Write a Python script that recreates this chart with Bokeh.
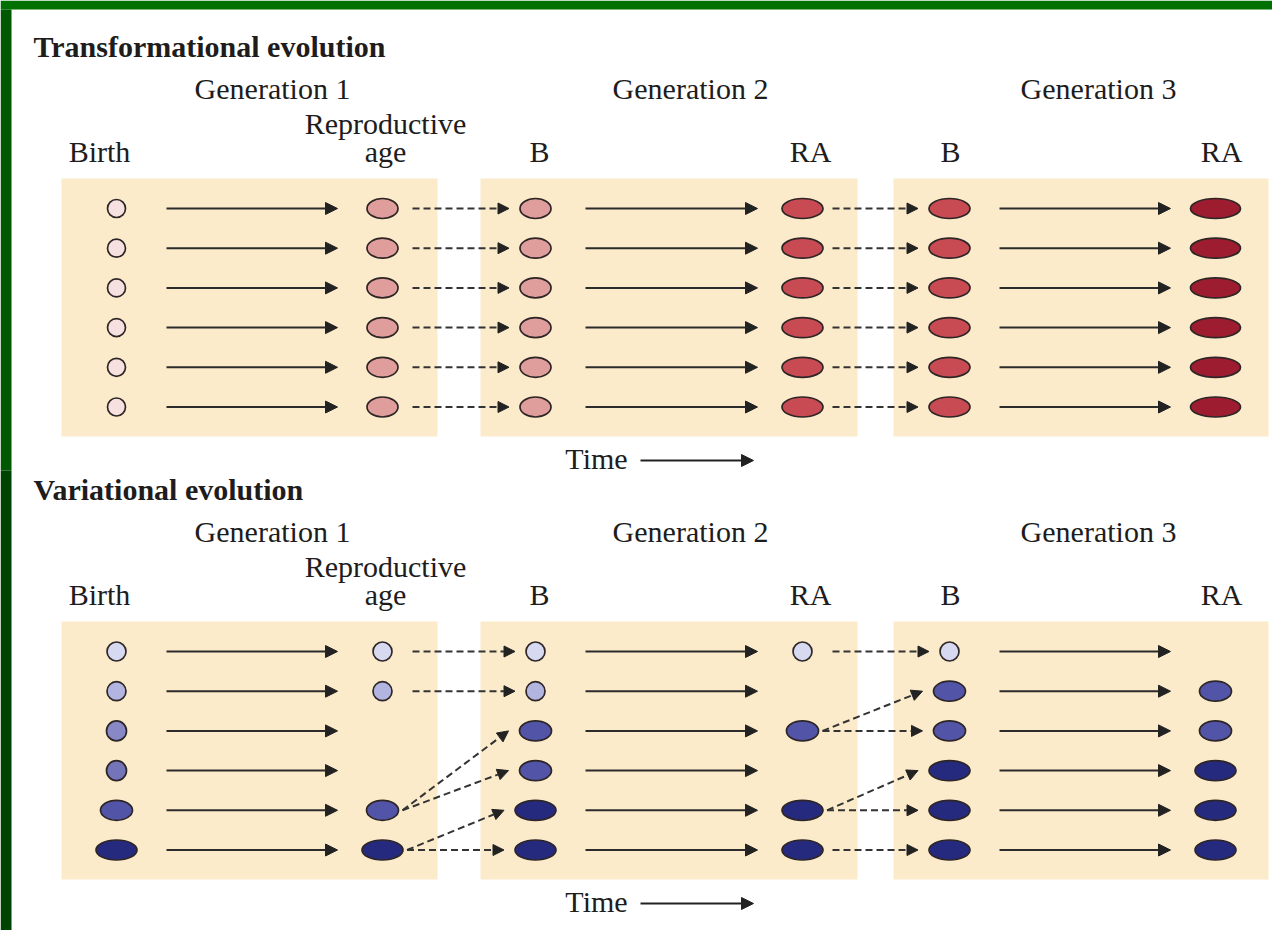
from bokeh.plotting import figure
from bokeh.models import Range1d, ColumnDataSource, Arrow, NormalHead
from bokeh.core.properties import value
from bokeh.embed import file_html
from bokeh.resources import INLINE

# ---------------- data ----------------
panel_titles = ["Transformational evolution", "Variational evolution"]
generation_labels = ["Generation 1", "Generation 2", "Generation 3"]
stage_line1 = ["", "Reproductive", "", "", "", ""]
stage_line2 = ["Birth", "age", "B", "RA", "B", "RA"]
time_label = "Time"

# phenotype class of each individual (rows) at each stage
# stages: Birth, RA (gen 1), B, RA (gen 2), B, RA (gen 3); None = individual absent
trans_pheno = [
    [0, 1, 1, 2, 2, 3],
    [0, 1, 1, 2, 2, 3],
    [0, 1, 1, 2, 2, 3],
    [0, 1, 1, 2, 2, 3],
    [0, 1, 1, 2, 2, 3],
    [0, 1, 1, 2, 2, 3],
]
var_pheno = [
    [0, 0, 0, 0, 0, None],
    [1, 1, 1, None, 4, 4],
    [2, None, 4, 4, 4, 4],
    [3, None, 4, None, 5, 5],
    [4, 4, 5, 5, 5, 5],
    [5, 5, 5, 5, 5, 5],
]
# offspring links (parent row -> offspring row) between generations
trans_links = [[(0, 0), (1, 1), (2, 2), (3, 3), (4, 4), (5, 5)],
               [(0, 0), (1, 1), (2, 2), (3, 3), (4, 4), (5, 5)]]
var_links = [[(0, 0), (1, 1), (4, 2), (4, 3), (5, 4), (5, 5)],
             [(0, 0), (2, 1), (2, 2), (4, 3), (4, 4), (5, 5)]]

# phenotype class appearance
trans_colors = ["#f7e0e0", "#df9d9b", "#c84a52", "#9e1c2f"]
trans_widths = [18, 31, 41, 50]
var_colors = ["#d7d9f1", "#b3b5e1", "#8888c7", "#7474b9", "#5154a7", "#252a7e"]
var_widths = [19, 19, 20, 20, 32, 41]

# ---------------- layout ----------------
W, H = 1272, 930
col_x = [116, 382, 535, 802, 949, 1215]
label_x = [99, 385, 539, 810, 950, 1221]
gen_x = [272, 690, 1098]
box_x = [(61, 437), (480, 857), (893, 1268)]
row0_y, row_dy = 208, 39.7
panel_dy = 443
BL = -11  # baseline correction
FONT = value("Liberation Serif")
TXT = "#201c1c"

p = figure(width=W, height=H, x_range=Range1d(0, W), y_range=Range1d(H, 0),
           output_backend="svg", toolbar_location=None, min_border=0,
           x_axis_location=None, y_axis_location=None,
           background_fill_color="white", border_fill_color="white", outline_line_color=None)
p.grid.visible = False

# green frame
p.quad(left=[0, 0, 0], right=[W, 11, 11], top=[0, 9, 470], bottom=[9, 470, H],
       fill_color=["#007000", "#005800", "#004200"], line_color=None)


def head(size):
    return NormalHead(size=size, fill_color="#222222", fill_alpha=1.0,
                      line_color="#222222", line_width=1)


def draw_panel(k, pheno, colors, widths, links):
    dy = k * panel_dy
    # boxes
    p.quad(left=[b[0] for b in box_x], right=[b[1] for b in box_x],
           top=[178 + dy] * 3, bottom=[436 + dy] * 3, fill_color="#fcebca", line_color=None)
    # texts
    p.text(x=[33], y=[57 + dy + BL], text=[panel_titles[k]], text_font=FONT, text_font_size="30px",
           text_font_style="bold", text_baseline="alphabetic", text_align="left", text_color=TXT)
    p.text(x=gen_x, y=[99 + dy + BL] * 3, text=generation_labels, text_font=FONT,
           text_font_size="30px", text_baseline="alphabetic", text_align="center", text_color=TXT)
    p.text(x=label_x, y=[134 + dy + BL] * 6, text=stage_line1, text_font=FONT,
           text_font_size="30px", text_baseline="alphabetic", text_align="center", text_color=TXT)
    p.text(x=label_x, y=[162 + dy + BL] * 6, text=stage_line2, text_font=FONT,
           text_font_size="30px", text_baseline="alphabetic", text_align="center", text_color=TXT)
    p.text(x=[596], y=[469 + dy + BL], text=[time_label], text_font=FONT, text_font_size="30px",
           text_baseline="alphabetic", text_align="center", text_color=TXT)
    p.add_layout(Arrow(x_start=640, y_start=460 + dy, x_end=753, y_end=460 + dy,
                       line_width=2, line_color="#222222", end=head(12)))

    ys = [row0_y + i * row_dy + dy for i in range(6)]
    # solid arrows (growth within a generation)
    sx, sy, ex, ey = [], [], [], []
    for g in range(3):
        for i in range(6):
            sx.append(col_x[2 * g] + 50); ex.append(col_x[2 * g + 1] - 45)
            sy.append(ys[i]); ey.append(ys[i])
    p.add_layout(Arrow(source=ColumnDataSource(dict(xs=sx, ys=sy, xe=ex, ye=ey)),
                       x_start="xs", y_start="ys", x_end="xe", y_end="ye",
                       line_width=2, line_color="#2b2b2b", end=head(12)))
    # dashed arrows (reproduction)
    sx, sy, ex, ey = [], [], [], []
    for g, lk in enumerate(links):
        src_col, dst_col = 2 * g + 1, 2 * g + 2
        counts = {}
        for s, t in lk:
            counts[s] = counts.get(s, 0) + 1
        for s, t in lk:
            ws = widths[pheno[s][src_col]]
            wt = widths[pheno[t][dst_col]]
            if counts[s] > 1:
                sx.append(col_x[src_col] + ws / 2 + 4)
            else:
                sx.append(col_x[src_col] + 30)
            ex.append(col_x[dst_col] - wt / 2 - 11)
            sy.append(ys[s]); ey.append(ys[t])
    p.add_layout(Arrow(source=ColumnDataSource(dict(xs=sx, ys=sy, xe=ex, ye=ey)),
                       x_start="xs", y_start="ys", x_end="xe", y_end="ye",
                       line_width=2, line_color="#333333", line_dash="7 4", end=head(11)))
    # individuals
    ex_, ey_, ew, eh, ec = [], [], [], [], []
    for i in range(6):
        for c in range(6):
            v = pheno[i][c]
            if v is None:
                continue
            ex_.append(col_x[c]); ey_.append(ys[i])
            w = widths[v]
            ew.append(w); eh.append(min(w, 20)); ec.append(colors[v])
    p.ellipse(x="x", y="y", width="w", height="h", fill_color="c", line_color="#2e2626",
              line_width=1.7, source=ColumnDataSource(dict(x=ex_, y=ey_, w=ew, h=eh, c=ec)))


draw_panel(0, trans_pheno, trans_colors, trans_widths, trans_links)
draw_panel(1, var_pheno, var_colors, var_widths, var_links)

open("out.html", "w").write(file_html(p, INLINE))
